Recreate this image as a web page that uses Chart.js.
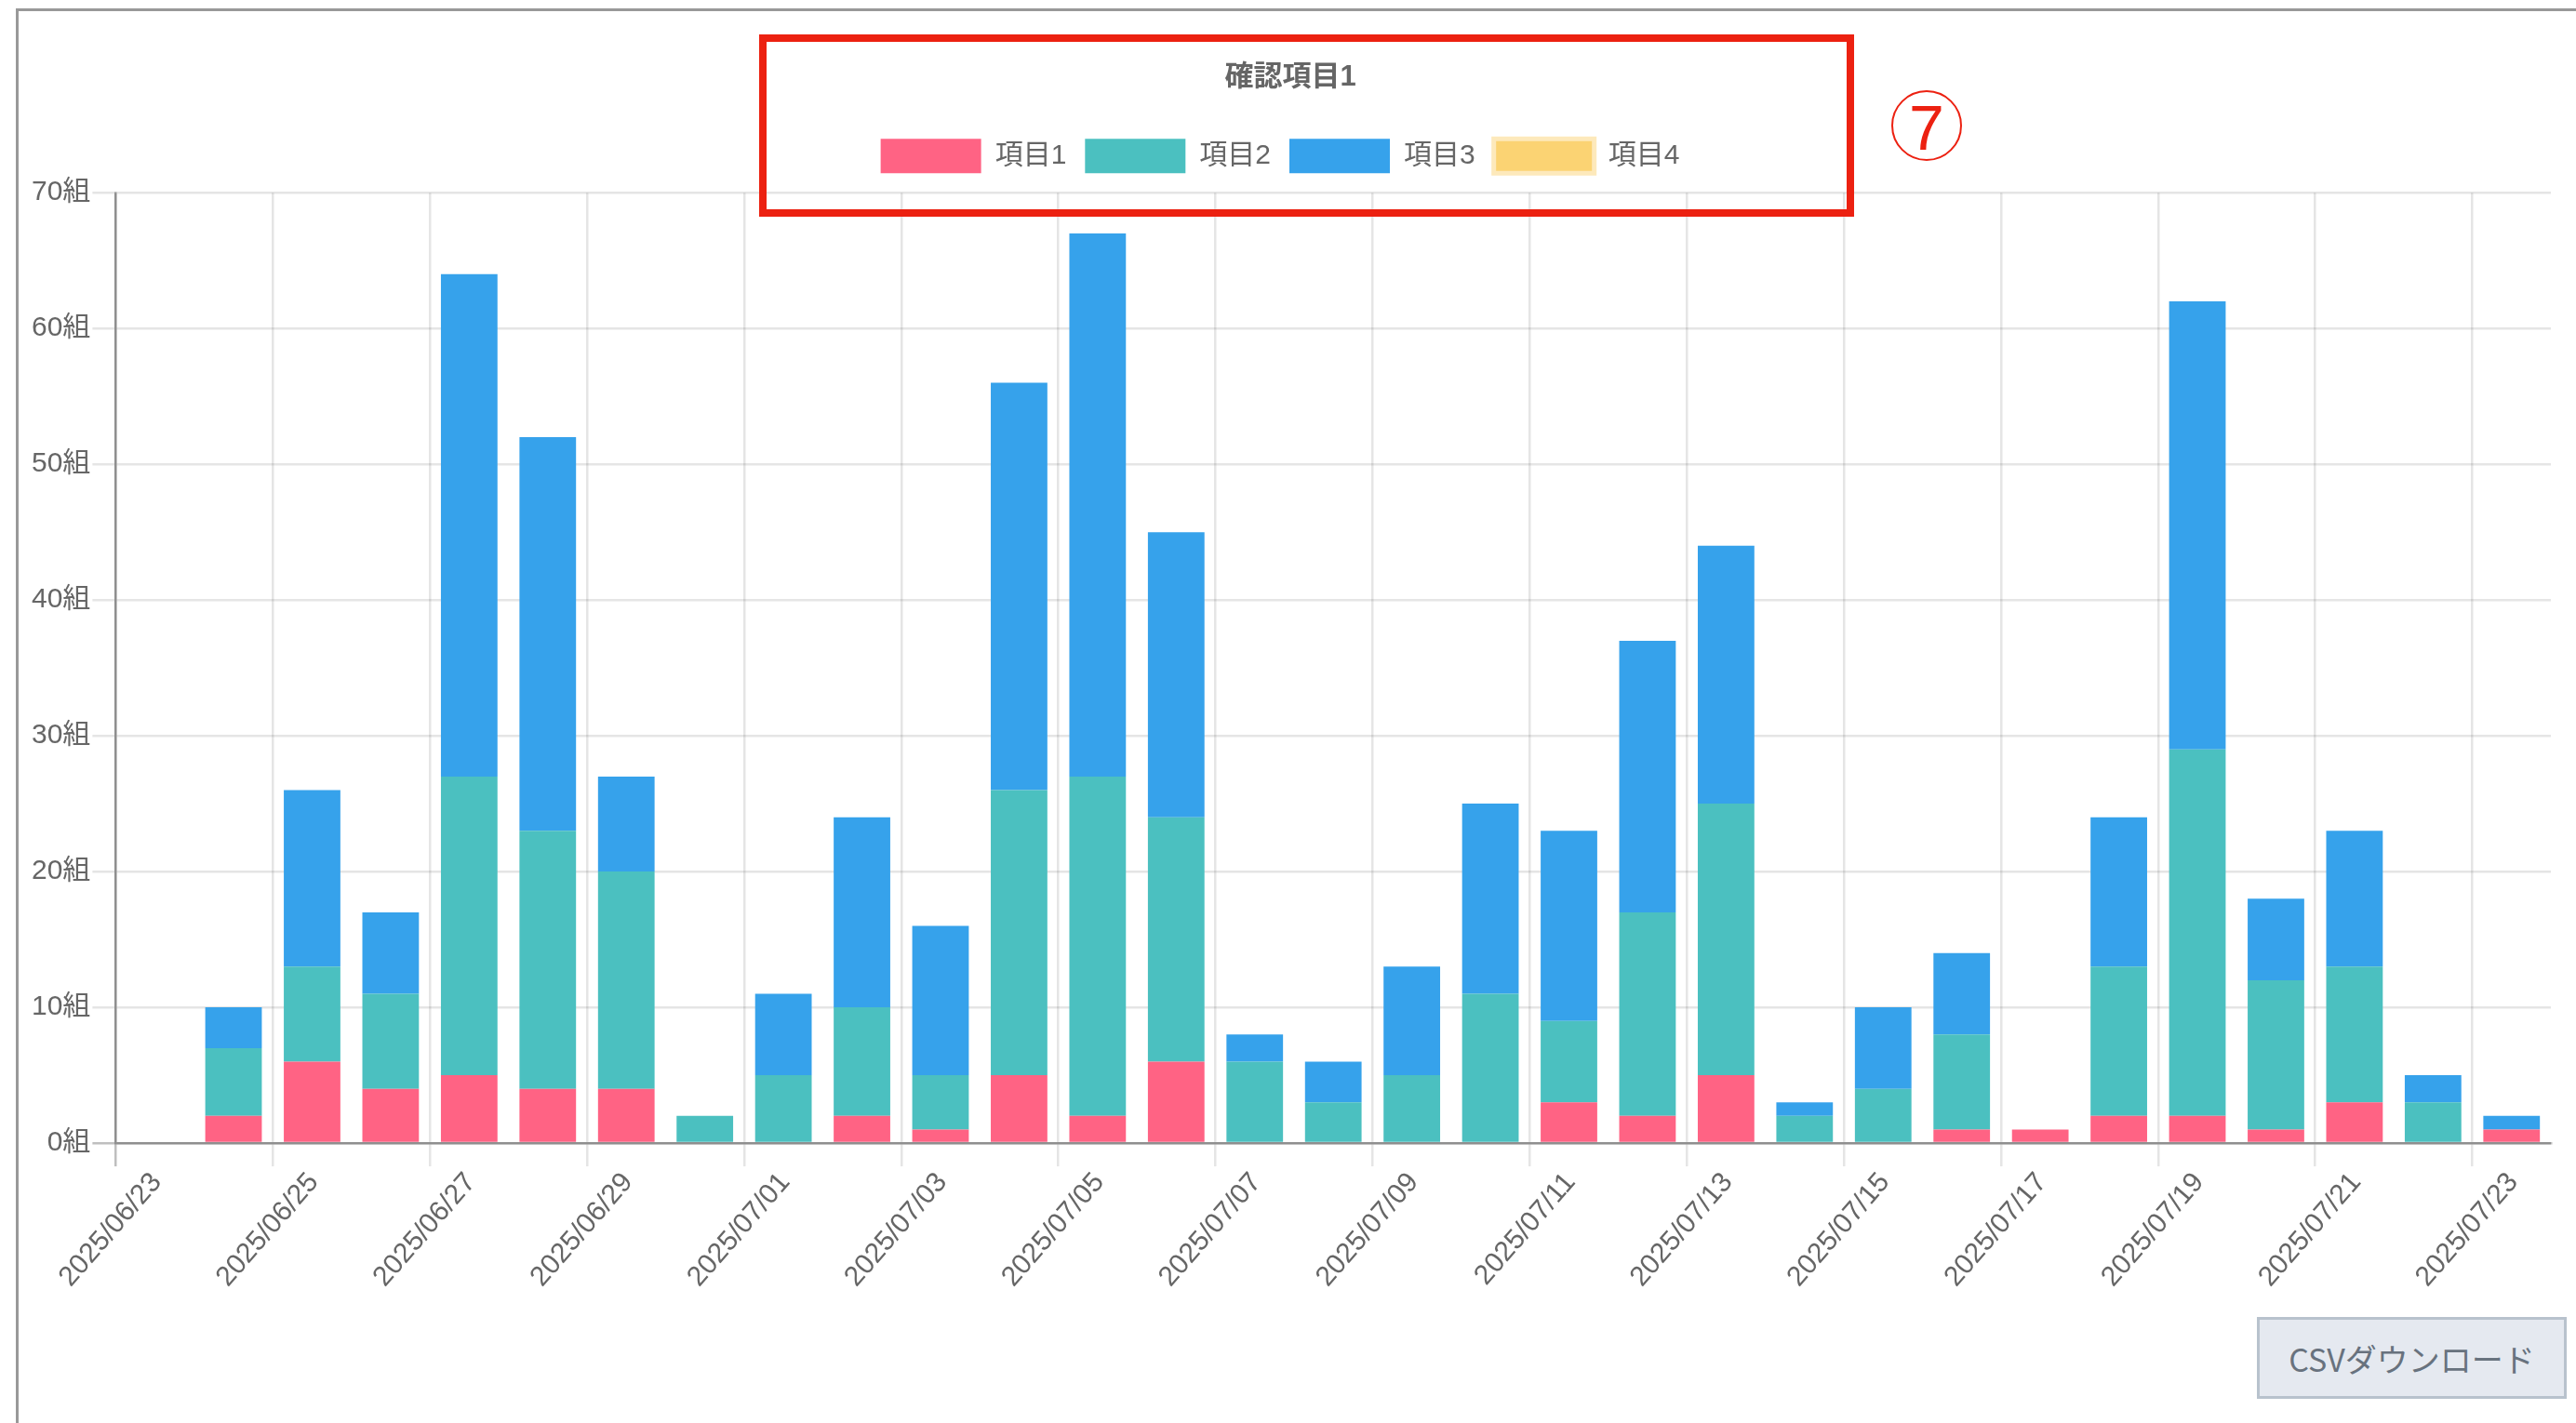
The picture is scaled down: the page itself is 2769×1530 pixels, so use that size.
<!DOCTYPE html>
<html lang="ja">
<head>
<meta charset="utf-8">
<title>確認項目1</title>
<script src="https://cdn.jsdelivr.net/npm/chart.js@4.4.1/dist/chart.umd.min.js"></script>
<style>
  html, body { margin: 0; padding: 0; background: #fff; }
  body { width: 2769px; height: 1530px; position: relative; overflow: hidden; }

  /* panel frame (only left + top edges are in the shot) */
  .panel {
    position: absolute; left: 17px; top: 9px; right: 0; bottom: 0;
    border-left: 3px solid #999; border-top: 3px solid #999;
  }
  .chart-wrap { position: absolute; left: 20px; top: 12px; width: 2749px; height: 1379px; }

  /* red annotation */
  .mark-box {
    position: absolute; left: 816px; top: 37px; width: 1161px; height: 180px;
    border: 8px solid #ec2111;
  }
  .mark-num {
    position: absolute; left: 2033px; top: 97px; width: 72px; height: 72px;
    border: 2.5px solid #ec2111; border-radius: 50%;
    display: flex; align-items: center; justify-content: center;
    font: 68px 'Liberation Sans', sans-serif; color: #ec2111; line-height: 1;
  }
  .mark-num span { position: relative; top: 2px; }

  .csv-btn {
    position: absolute; left: 2426px; top: 1416px; width: 333px; height: 88px;
    box-sizing: border-box; border: 3px solid #b8c2cd; background: #e5e9f0;
    color: #68727e; font: 34px 'Noto Sans CJK JP', sans-serif;
    display: flex; align-items: center; justify-content: center;
  }
</style>
</head>
<body>
<div class="panel"></div>
<div class="chart-wrap"><canvas id="chart"></canvas></div>
<div class="mark-box"></div>
<div class="mark-num"><span>7</span></div>
<div class="csv-btn">CSVダウンロード</div>

<script>
'use strict';

/* ── Data ─────────────────────────────────────────────────────────── */
const START_DATE = '2025/06/23';
const dates = [
  '2025/06/24', '2025/06/25', '2025/06/26', '2025/06/27', '2025/06/28',
  '2025/06/29', '2025/06/30', '2025/07/01', '2025/07/02', '2025/07/03',
  '2025/07/04', '2025/07/05', '2025/07/06', '2025/07/07', '2025/07/08',
  '2025/07/09', '2025/07/10', '2025/07/11', '2025/07/12', '2025/07/13',
  '2025/07/14', '2025/07/15', '2025/07/16', '2025/07/17', '2025/07/18',
  '2025/07/19', '2025/07/20', '2025/07/21', '2025/07/22', '2025/07/23',
];
const item1 = [2, 6, 4, 5, 4, 4, 0, 0, 2, 1, 5, 2, 6, 0, 0, 0, 0, 3, 2, 5, 0, 0, 1, 1, 2, 2, 1, 3, 0, 1];
const item2 = [5, 7, 7, 22, 19, 16, 2, 5, 8, 4, 21, 25, 18, 6, 3, 5, 11, 6, 15, 20, 2, 4, 7, 0, 11, 27, 11, 10, 3, 0];
const item3 = [3, 13, 6, 37, 29, 7, 0, 6, 14, 11, 30, 40, 21, 2, 3, 8, 14, 14, 20, 19, 1, 6, 6, 0, 11, 33, 6, 10, 2, 1];
const item4 = [0, 0, 0, 0, 0, 0, 0, 0, 0, 0, 0, 0, 0, 0, 0, 0, 0, 0, 0, 0, 0, 0, 0, 0, 0, 0, 0, 0, 0, 0];
const seriesNames = ['項目1', '項目2', '項目3', '項目4'];
const chartTitle = '確認項目1';
const unitLabel = '組';
const dayCount = 31;   // axis spans 06/23 .. 07/24

/* ── Colours ──────────────────────────────────────────────────────── */
const COLORS = [
  { bg: '#ff6384', border: '#ff6384', width: 0 },
  { bg: '#4bc0c0', border: '#4bc0c0', width: 0 },
  { bg: '#36a2eb', border: '#36a2eb', width: 0 },
  { bg: '#fbd373', border: '#fde9bb', width: 5 },
];
const GRID      = 'rgba(0,0,0,0.1)';
const GRID_ZERO = 'rgba(0,0,0,0.25)';

/* ── Date helpers ─────────────────────────────────────────────────── */
const DAY_MS = 86400000;
function toUtc(str) {
  const [y, m, d] = str.split('/').map(Number);
  return Date.UTC(y, m - 1, d);
}
const t0 = toUtc(START_DATE);
// bar sits in the middle of its day
function dayPos(str) { return (toUtc(str) - t0) / DAY_MS + 0.5; }
function fmtDay(offset) {
  const d = new Date(t0 + offset * DAY_MS);
  const mm = String(d.getUTCMonth() + 1).padStart(2, '0');
  const dd = String(d.getUTCDate()).padStart(2, '0');
  return `${d.getUTCFullYear()}/${mm}/${dd}`;
}

/* ── Legend spacing tweak ─────────────────────────────────────────── */
const legendGap = {
  id: 'legendGap',
  beforeInit(chart) {
    const fit = chart.legend.fit;
    chart.legend.fit = function () {
      fit.call(this);
      this.height += 11;
      if (this.lineWidths) this.lineWidths[0] += 22;  // nudge row a bit left
    };
  },
};

Chart.defaults.font.family = "'Liberation Sans', 'Noto Sans CJK JP', sans-serif";
Chart.defaults.font.size = 30;
Chart.defaults.color = '#666';

const allSeries = [item1, item2, item3, item4];

new Chart(document.getElementById('chart'), {
  type: 'bar',
  data: {
    datasets: allSeries.map((vals, k) => ({
      label: seriesNames[k],
      data: dates.map((d, i) => ({ x: dayPos(d), y: vals[i] })),
      backgroundColor: COLORS[k].bg,
      borderColor: COLORS[k].border,
      borderWidth: COLORS[k].width,
      categoryPercentage: 0.8,
      barPercentage: 0.9,
    })),
  },
  options: {
    responsive: true,
    maintainAspectRatio: false,
    animation: false,
    devicePixelRatio: 1,
    layout: { padding: { left: 12, right: 27, top: 0, bottom: 0 } },
    plugins: {
      title: {
        display: true,
        text: chartTitle,
        font: { size: 31, weight: 'bold' },
        color: '#666',
        padding: { top: 53, bottom: 27 },
      },
      legend: {
        position: 'top',
        labels: { boxWidth: 108, boxHeight: 37, padding: 20, color: '#666', font: { size: 30 } },
      },
      tooltip: { enabled: false },
    },
    scales: {
      x: {
        type: 'linear',
        stacked: true,
        offset: false,
        min: 0,
        max: dayCount,
        grid: {
          offset: false,
          lineWidth: 2.5,
          tickLength: 25,
          color: ctx => (ctx.tick && ctx.tick.value === 0 ? GRID_ZERO : GRID),
        },
        border: { color: GRID_ZERO, width: 2.5 },
        ticks: {
          stepSize: 2,
          includeBounds: false,
          autoSkip: false,
          minRotation: 49,
          maxRotation: 49,
          padding: 0,
          labelOffset: 44,
          color: '#666',
          font: { size: 30 },
          callback: v => fmtDay(v),
        },
      },
      y: {
        stacked: true,
        min: 0,
        max: 70,
        grid: {
          lineWidth: 2.5,
          tickLength: 25,
          color: ctx => (ctx.tick && ctx.tick.value === 0 ? GRID_ZERO : GRID),
        },
        border: { color: GRID_ZERO, width: 2.5 },
        ticks: {
          stepSize: 10,
          padding: 2,
          color: '#666',
          font: { size: 30 },
          callback: v => v + unitLabel,
        },
      },
    },
  },
  plugins: [legendGap],
});
</script>
</body>
</html>
